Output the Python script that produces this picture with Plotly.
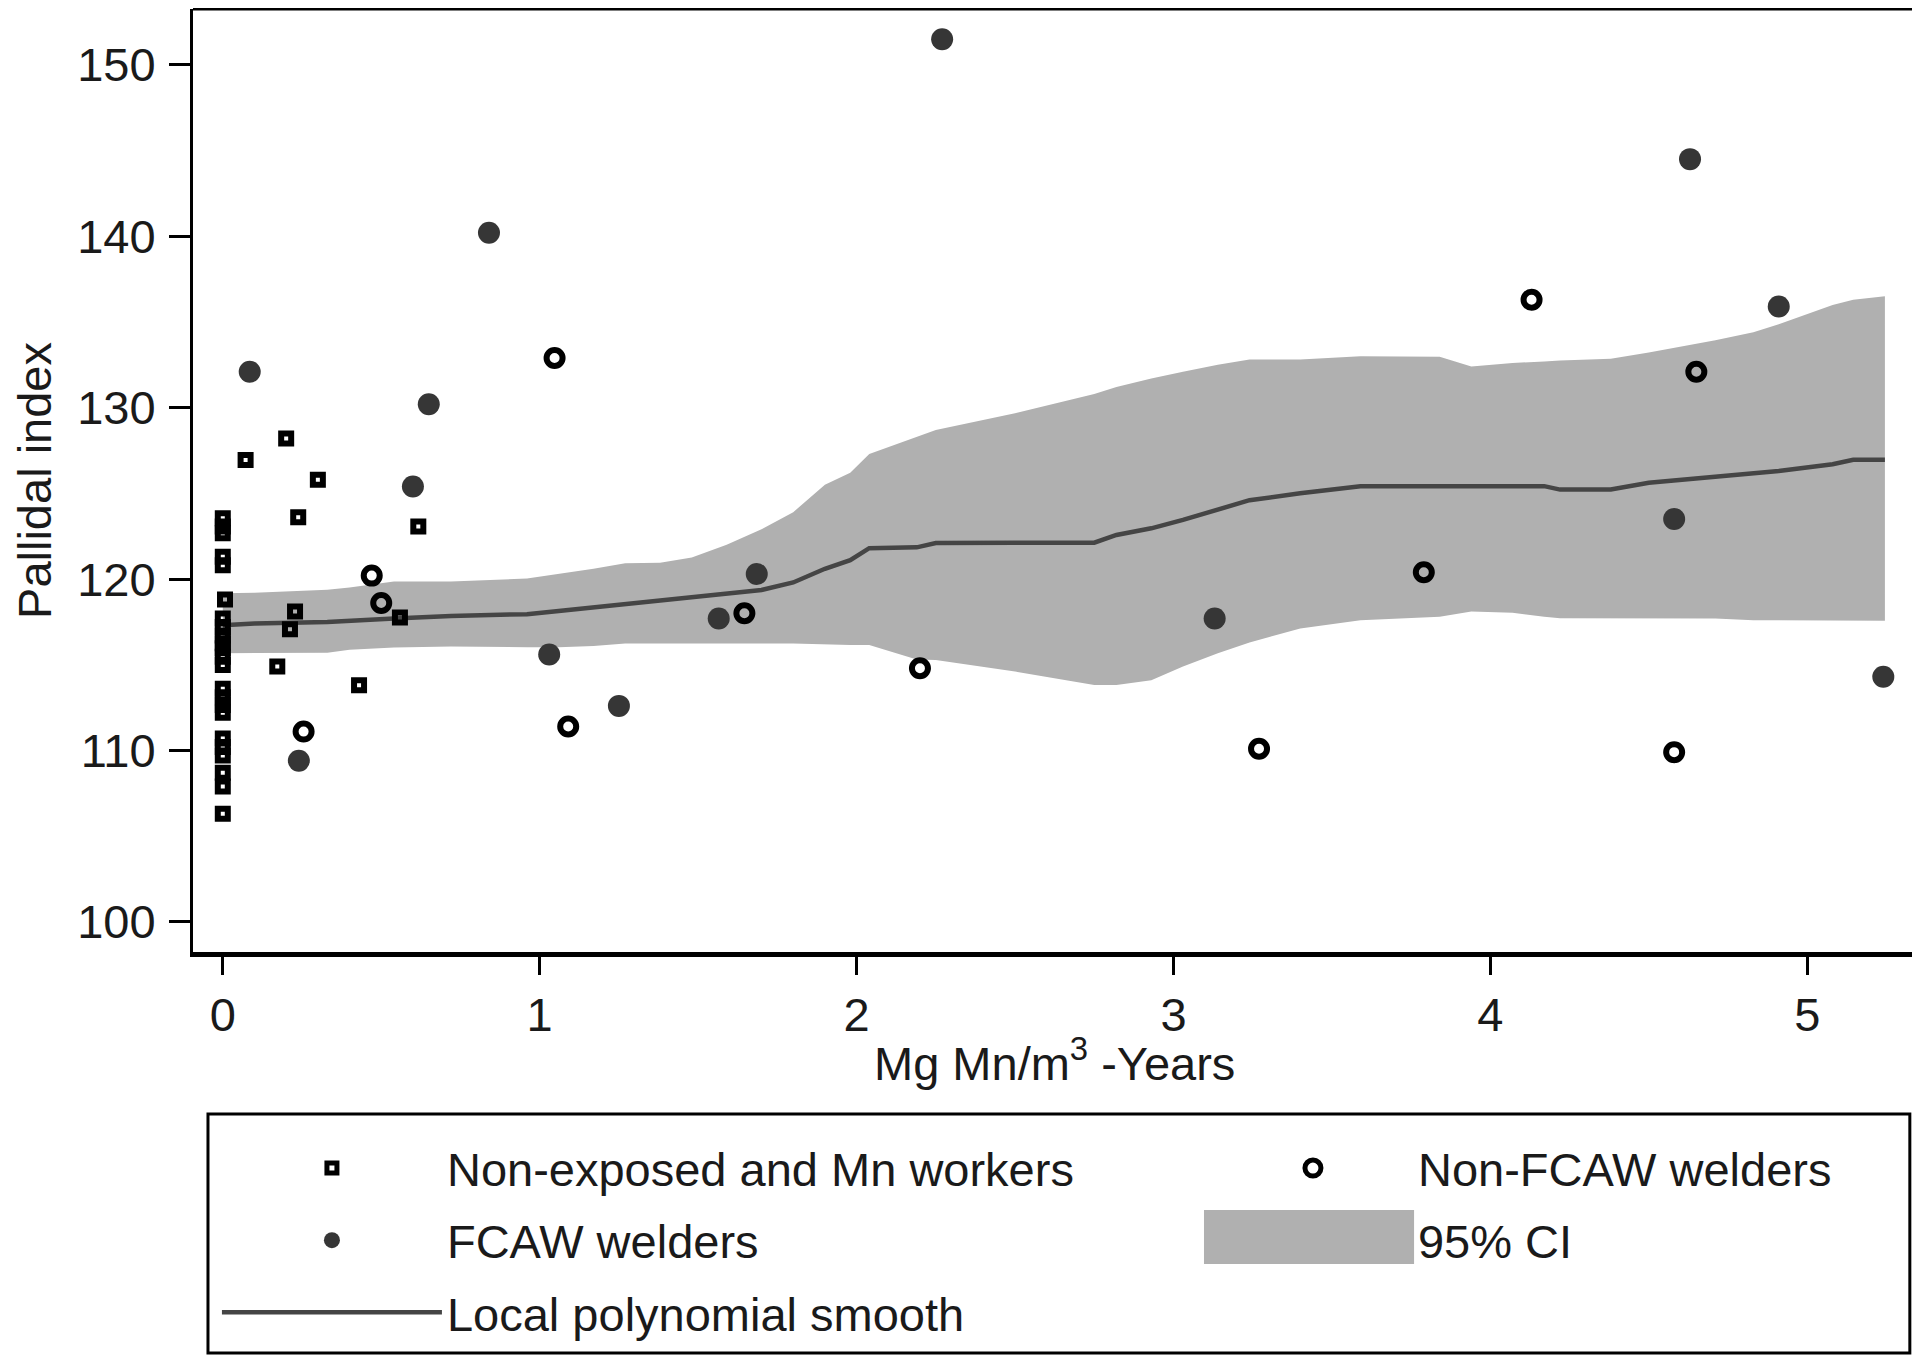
import plotly.graph_objects as go

# ---------------- data ----------------
nonexp_x = [0.0, 0.0, 0.0, 0.0, 0.0, 0.007, 0.0, 0.0, 0.0, 0.0, 0.0, 0.0, 0.0,
            0.0, 0.0, 0.0, 0.0, 0.0, 0.0, 0.0, 0.0, 0.0, 0.0,
            0.072, 0.20, 0.30, 0.238, 0.617, 0.228, 0.212, 0.559, 0.172, 0.43]
nonexp_y = [123.55, 123.06, 122.67, 121.3, 120.8, 118.8, 117.7, 117.2, 116.7, 116.25, 115.96, 115.47, 114.99,
            113.6, 113.1, 112.65, 112.2, 110.7, 110.2, 109.7, 108.7, 107.9, 106.3,
            126.95, 128.2, 125.8, 123.6, 123.06, 118.1, 117.07, 117.75, 114.9, 113.8]

nonfcaw_x = [0.47, 0.50, 0.255, 1.047, 1.09, 1.646, 2.20, 3.27, 3.79, 4.13, 4.65, 4.58]
nonfcaw_y = [120.2, 118.6, 111.1, 132.9, 111.4, 118.0, 114.8, 110.1, 120.4, 136.3, 132.1, 109.9]

fcaw_x = [0.085, 0.84, 0.65, 0.60, 0.24, 1.03, 1.25, 1.565, 1.685, 2.27, 3.13, 4.63, 4.91, 4.58, 5.24]
fcaw_y = [132.1, 140.2, 130.2, 125.4, 109.4, 115.6, 112.6, 117.7, 120.3, 151.5, 117.7, 144.5, 135.9, 123.5, 114.3]

smooth_x = [0.0, 0.1, 0.33, 0.4, 0.54, 0.72, 0.96, 1.06, 1.17, 1.27, 1.38, 1.48, 1.59, 1.70,
            1.80, 1.90, 1.98, 2.04, 2.19, 2.25, 2.50, 2.75, 2.82, 2.93, 3.03, 3.14, 3.24,
            3.40, 3.59, 3.84, 3.94, 4.07, 4.17, 4.22, 4.38, 4.50, 4.71, 4.83, 4.91, 5.08, 5.145, 5.245]
smooth_y = [117.3, 117.4, 117.5, 117.55, 117.7, 117.85, 117.95, 118.14, 118.35, 118.58, 118.8, 118.96, 119.14, 119.36,
            119.8, 120.6, 121.1, 121.8, 121.85, 122.1, 122.12, 122.12, 122.57, 122.96, 123.45, 124.03, 124.6,
            125.0, 125.42, 125.42, 125.42, 125.42, 125.42, 125.22, 125.22, 125.62, 125.95, 126.14, 126.3, 126.7, 126.96, 126.96]
ci_upper = [119.17, 119.2, 119.37, 119.5, 119.85, 119.85, 120.03, 120.3, 120.6, 120.92, 120.95, 121.26, 122.0, 122.9,
            123.9, 125.5, 126.2, 127.3, 128.3, 128.7, 129.67, 130.8, 131.2, 131.7, 132.1, 132.5, 132.81,
            132.81, 133.0, 132.97, 132.4, 132.6, 132.7, 132.75, 132.85, 133.22, 133.94, 134.4, 134.86, 135.99, 136.3, 136.5]
ci_lower = [115.67, 115.67, 115.7, 115.87, 116.0, 116.06, 116.02, 116.02, 116.1, 116.24, 116.24, 116.24, 116.24, 116.24,
            116.24, 116.2, 116.15, 116.15, 115.3, 115.28, 114.6, 113.82, 113.82, 114.1, 114.9, 115.67, 116.3,
            117.11, 117.6, 117.8, 118.1, 118.03, 117.8, 117.72, 117.72, 117.72, 117.7, 117.6, 117.56, 117.56, 117.56, 117.56]

x_ticks = [0, 1, 2, 3, 4, 5]
y_ticks = [100, 110, 120, 130, 140, 150]
x_title = "Mg Mn/m<sup>3</sup> -Years"
y_title = "Pallidal index"

FONT = "Liberation Sans, Arial, sans-serif"
TXT = "#1a1a1a"
BAND = "#b0b0b0"
FS = 47

fig = go.Figure()

# 95% CI band
fig.add_trace(go.Scatter(
    x=smooth_x + smooth_x[::-1], y=ci_upper + ci_lower[::-1],
    fill="toself", fillcolor=BAND, mode="lines",
    line=dict(width=0, color=BAND), name="95% CI",
    legend="legend2", legendgroup="ci", legendrank=2, hoverinfo="skip"))

# smooth line
fig.add_trace(go.Scatter(
    x=smooth_x, y=smooth_y, mode="lines", line=dict(color="#454545", width=4.5),
    name="Local polynomial smooth", legend="legend", legendgroup="sm", legendrank=3))

# non-exposed
fig.add_trace(go.Scatter(
    x=nonexp_x, y=nonexp_y, mode="markers", name="Non-exposed and Mn workers",
    marker=dict(symbol="square-open", size=10, color="black", line=dict(width=6, color="black")),
    legend="legend", legendgroup="ne", legendrank=1))

# non-FCAW welders
fig.add_trace(go.Scatter(
    x=nonfcaw_x, y=nonfcaw_y, mode="markers", name="Non-FCAW welders",
    marker=dict(symbol="circle-open", size=16, color="black", line=dict(width=6, color="black")),
    legend="legend2", legendgroup="nf", legendrank=1))

# FCAW welders
fig.add_trace(go.Scatter(
    x=fcaw_x, y=fcaw_y, mode="markers", name="FCAW welders",
    marker=dict(symbol="circle", size=22, color="#363636", line=dict(width=0)),
    legend="legend", legendgroup="fc", legendrank=2))

leg_common = dict(
    orientation="v", xanchor="left", yanchor="top",
    borderwidth=0, bgcolor="rgba(0,0,0,0)",
    font=dict(family=FONT, size=FS, color=TXT),
    tracegroupgap=8, traceorder="grouped",
)

# page has an 8 px body margin: the figure is sized so that it ends at 1920x1361
fig.update_layout(
    width=1912, height=1353,
    margin=dict(l=185, r=5, t=1, b=409),
    paper_bgcolor="white", plot_bgcolor="white",
    font=dict(family=FONT, size=FS, color=TXT),
    showlegend=True,
    legend=dict(x=0.0139, y=-0.1898, itemwidth=220, **leg_common),
    legend2=dict(x=0.5894, y=-0.1898, itemwidth=200, **leg_common),
    xaxis=dict(
        range=[-0.094, 5.34], tickvals=x_ticks, ticktext=[str(v) for v in x_ticks],
        showgrid=False, zeroline=False, showline=True, linewidth=5, linecolor="black",
        ticks="outside", ticklen=18, tickwidth=3, tickcolor="black", automargin=False,
        tickfont=dict(family=FONT, size=FS, color=TXT),
    ),
    yaxis=dict(
        range=[98.24, 153.26], tickvals=y_ticks, ticktext=[str(v) for v in y_ticks],
        showgrid=False, zeroline=False, showline=True, linewidth=3, linecolor="black",
        ticks="outside", ticklen=21, tickwidth=3, tickcolor="black", automargin=False,
        ticklabelstandoff=4,
        tickfont=dict(family=FONT, size=FS, color=TXT),
        title=dict(text=y_title, standoff=15,
                   font=dict(family=FONT, size=FS, color=TXT)),
    ),
    annotations=[
        dict(text=x_title, xref="paper", yref="paper", x=0.5, y=0,
             xanchor="center", yanchor="middle", yshift=-108, showarrow=False,
             font=dict(family=FONT, size=FS, color=TXT)),
    ],
    shapes=[
        # top and right frame lines
        dict(type="line", xref="paper", yref="paper", x0=0, x1=1, y0=1, y1=1,
             line=dict(color="black", width=3)),
        dict(type="line", xref="paper", yref="paper", x0=1, x1=1, y0=0, y1=1,
             line=dict(color="black", width=3)),
        # legend frame
        dict(type="rect", xref="paper", yref="paper", x0=0.0087, x1=0.997, y0=-0.4252, y1=-0.1718,
             line=dict(color="black", width=3), fillcolor="rgba(0,0,0,0)", layer="below"),
        # 95% CI legend swatch
        dict(type="rect", xref="paper", yref="paper", x0=0.5871, x1=0.7091, y0=-0.3309, y1=-0.2736,
             line=dict(width=0), fillcolor=BAND, layer="below"),
    ],
)

fig.write_html("out.html")
